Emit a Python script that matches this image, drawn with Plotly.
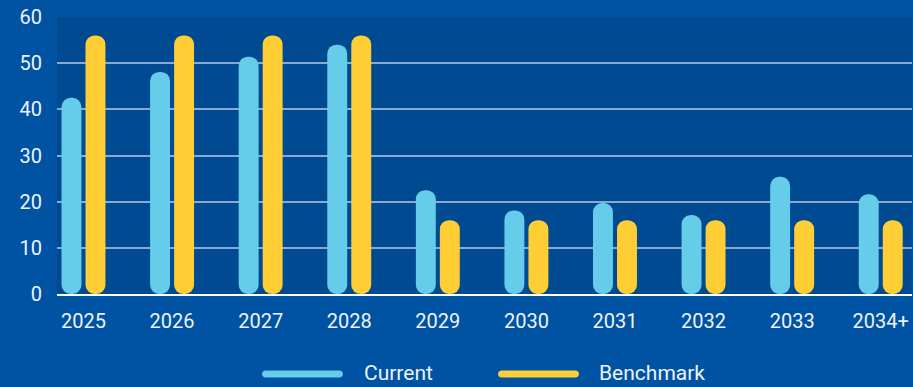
import plotly.graph_objects as go

# ---- data ----
years = ["2025", "2026", "2027", "2028", "2029", "2030", "2031", "2032", "2033", "2034+"]
current = [42.5, 48.1, 51.4, 54.0, 22.5, 18.1, 19.7, 17.1, 25.4, 21.6]
benchmark = [56, 56, 56, 56, 16, 16, 16, 16, 16, 16]
series_names = ["Current", "Benchmark"]
y_ticks = [0, 10, 20, 30, 40, 50, 60]

# ---- style ----
PAPER = "#0052A2"
PLOT = "#004A92"
CYAN = "#65CCE9"
YELLOW = "#FFCD34"
GRID = "#8AA9D2"
TEXT = "#EEF3FA"
FONT = "Roboto"

W, H = 913, 387
ML, MR, MT, MB = 57, 1, 17, 93
PW, PH = W - ML - MR, H - MT - MB

x_idx = list(range(len(years)))
bar_w = 0.2250
offsets = [-0.2480, 0.0230]
colors = [CYAN, YELLOW]

fig = go.Figure()
for vals, off, col, name in zip([current, benchmark], offsets, colors, series_names):
    # a bar with an explicit base gets both ends rounded -> pill shape
    fig.add_trace(go.Bar(
        x=x_idx, y=vals, base=[0] * len(vals),
        width=bar_w, offset=off, marker=dict(color=col, cornerradius=10, line=dict(width=0)),
        name=name, showlegend=False, hoverinfo="skip"))


def px_to_paper(px, py):
    return (px - ML) / PW, (MT + PH - py) / PH


def pill_path(x0, x1, yc, h):
    r = h / 2.0
    k = 0.5523 * r

    def p(x, y):
        a, b = px_to_paper(x, y)
        return f"{a:.5f},{b:.5f}"
    return (
        f"M{p(x0 + r, yc - r)} L{p(x1 - r, yc - r)} "
        f"C{p(x1 - r + k, yc - r)} {p(x1, yc - k)} {p(x1, yc)} "
        f"C{p(x1, yc + k)} {p(x1 - r + k, yc + r)} {p(x1 - r, yc + r)} "
        f"L{p(x0 + r, yc + r)} "
        f"C{p(x0 + r - k, yc + r)} {p(x0, yc + k)} {p(x0, yc)} "
        f"C{p(x0, yc - k)} {p(x0 + r - k, yc - r)} {p(x0 + r, yc - r)} Z"
    )


legend_items = [(262, 343, 362, CYAN, series_names[0]), (498, 579, 597, YELLOW, series_names[1])]
shapes = []
annotations = []
for x0, x1, tx, col, name in legend_items:
    shapes.append(dict(type="path", xref="paper", yref="paper", path=pill_path(x0, x1, 374, 7),
                       fillcolor=col, line=dict(width=0)))
    ax, ay = px_to_paper(tx, 373)
    annotations.append(dict(xref="paper", yref="paper", x=ax, y=ay, xanchor="left", yanchor="middle",
                            text=name, showarrow=False, font=dict(family=FONT, size=21, color=TEXT)))

fig.update_layout(
    width=W, height=H,
    margin=dict(l=ML, r=MR, t=MT, b=MB, pad=0),
    paper_bgcolor=PAPER, plot_bgcolor=PLOT,
    barmode="overlay",
    showlegend=False,
    shapes=shapes,
    annotations=annotations,
    font=dict(family=FONT, size=20, color=TEXT),
    xaxis=dict(
        range=[-0.299, 9.353], tickmode="array", tickvals=x_idx, ticktext=years,
        showgrid=False, zeroline=False, showline=True, linecolor="white", linewidth=2,
        ticks="", ticklabelstandoff=8,
        tickfont=dict(family=FONT, size=20, color=TEXT), fixedrange=True),
    yaxis=dict(
        range=[0, 60], tickmode="array", tickvals=y_ticks,
        showgrid=True, gridcolor=GRID, gridwidth=1.5, zeroline=False, showline=False,
        ticks="", ticklabelstandoff=14,
        tickfont=dict(family=FONT, size=20, color=TEXT), fixedrange=True),
)

fig.write_html(
    "out.html",
    config={"displayModeBar": False},
    post_script="document.body.style.margin='0';document.body.style.overflow='hidden';document.body.style.background='" + PAPER + "';",
)
